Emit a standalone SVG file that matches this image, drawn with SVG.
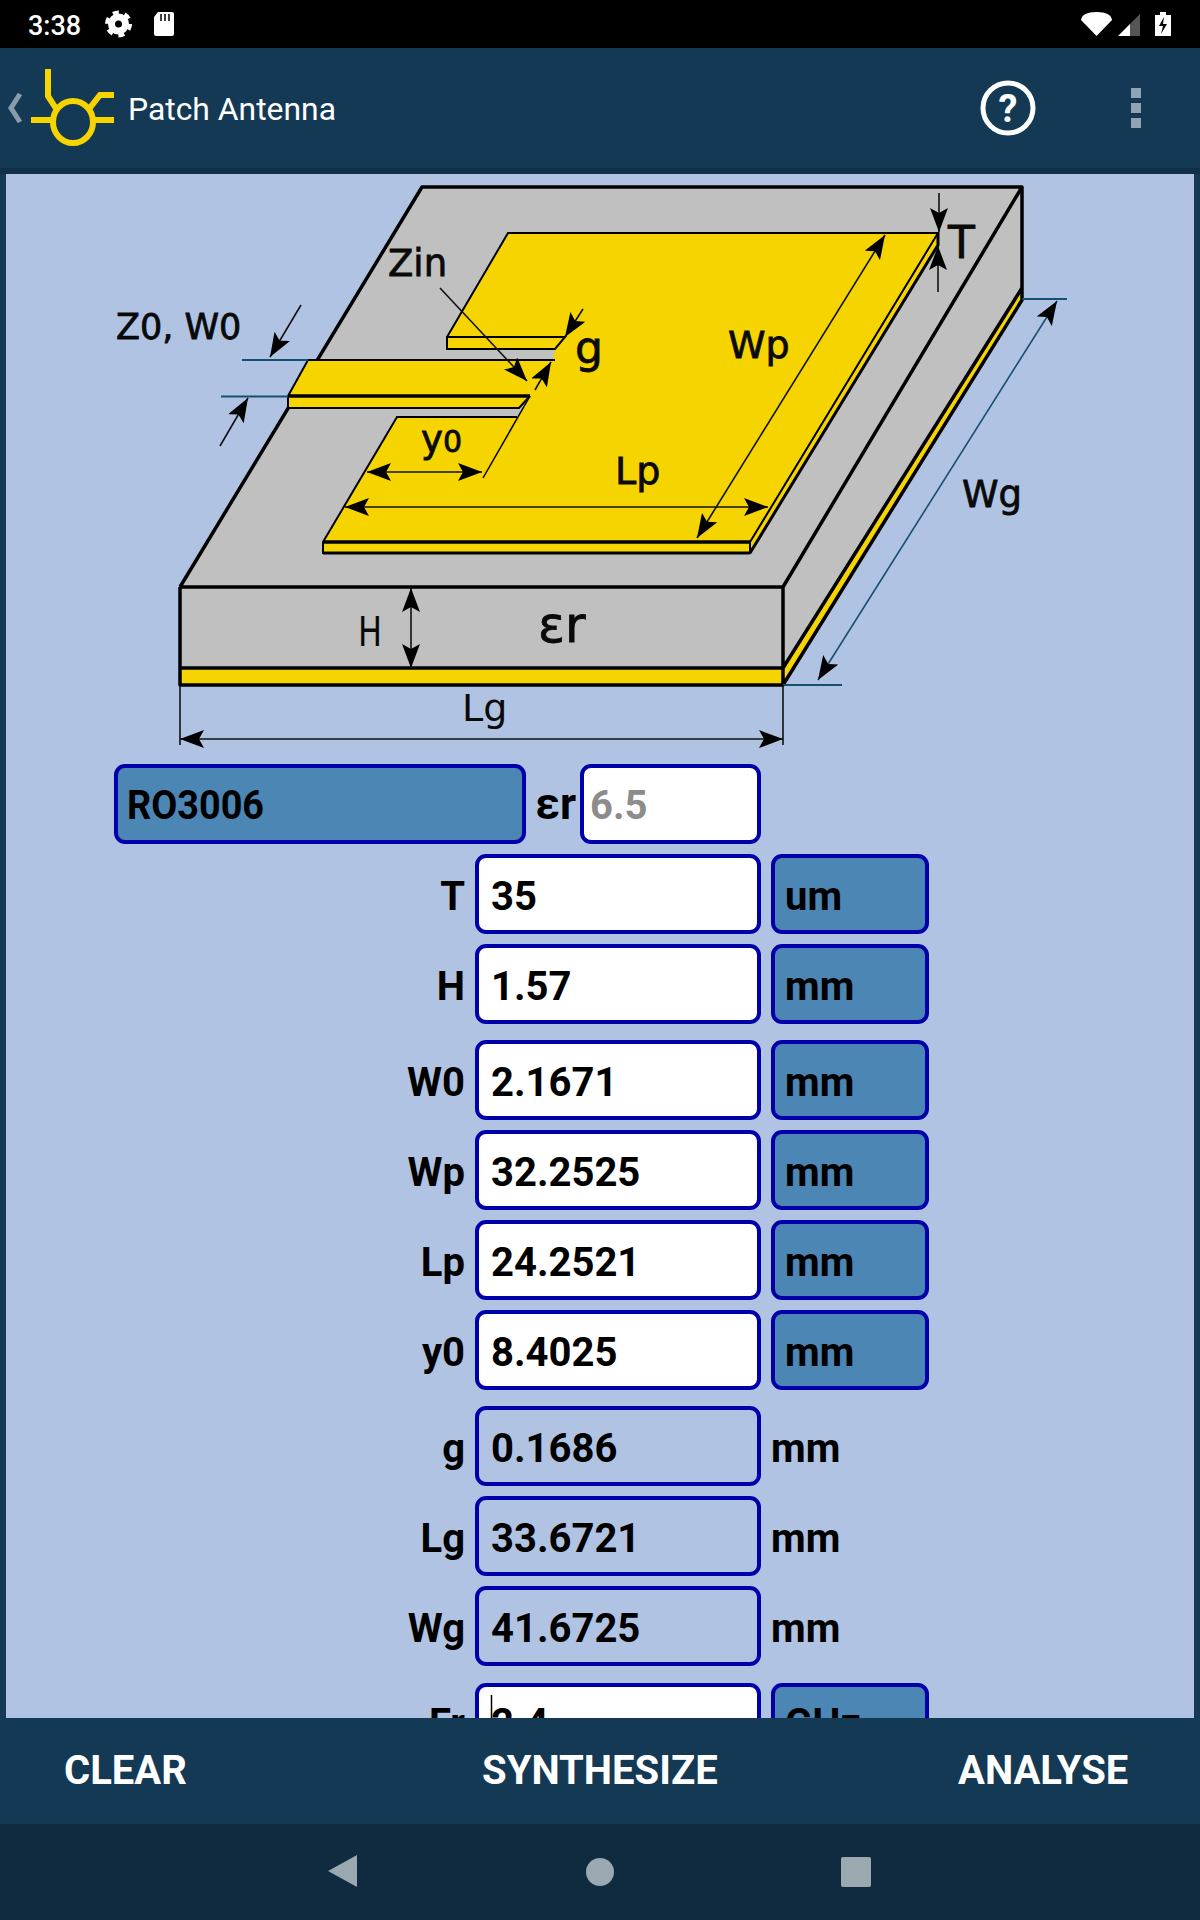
<svg xmlns="http://www.w3.org/2000/svg" width="1200" height="1920" viewBox="0 0 1200 1920">
<defs>
<marker id="arr" markerUnits="userSpaceOnUse" viewBox="0 0 24 18" refX="24" refY="9" markerWidth="24" markerHeight="18" orient="auto-start-reverse"><path d="M0,0 L24,9 L0,18 L5,9 Z" fill="#000"/></marker>
</defs>
<style>
.f{font-family:"Roboto","Liberation Sans",sans-serif;font-weight:700;font-size:40px;fill:#000}
.r{text-anchor:end}
.d{font-family:"DejaVu Sans",sans-serif;fill:#0a0a0a;stroke:#0a0a0a;stroke-width:.8}
.n{stroke-width:0}
.b{fill:#fff;stroke:#0000aa;stroke-width:4}
.s{fill:#4c86b5;stroke:#0000aa;stroke-width:4}
.o{fill:#b1c3e3;stroke:#0000aa;stroke-width:4}
.e{fill:none;stroke:#000;stroke-width:3.500;stroke-linejoin:round}
.t{fill:none;stroke:#000;stroke-width:2}
.h{fill:none;stroke:#000;stroke-width:3.500}
.dim{fill:none;stroke:#111;stroke-width:1.600}
.blue{fill:none;stroke:#14506f;stroke-width:2}
.w{font-family:"Roboto","Liberation Sans",sans-serif;font-weight:700;font-size:40px;fill:#fff}
</style>
<rect width="1200" height="1920" fill="#143955"/>
<g id="status-bar">
<rect width="1200" height="48" fill="#000"/>
<text x="28" y="35" font-family="Roboto,sans-serif" font-weight="500" font-size="27" fill="#fff">3:38</text>
<g id="gear"><circle cx="118.500" cy="24" r="7" fill="none" stroke="#fff" stroke-width="7"/><circle cx="118.500" cy="24" r="11.500" fill="none" stroke="#fff" stroke-width="4" stroke-dasharray="6 6.040"/></g>
<path d="M158,12 H172 a2,2 0 0 1 2,2 V34 a2,2 0 0 1 -2,2 H156 a2,2 0 0 1 -2,-2 V17 Z" fill="#fff"/>
<path d="M161,14 v7 M165,14 v7 M169,14 v7" stroke="#000" stroke-width="1.500"/>
<path d="M1081,20 Q1082,12 1096.500,12 Q1111,12 1112,20 L1096.500,36 Z" fill="#fff"/>
<path d="M1118,36 L1130,24 V36 Z" fill="#fff"/><path d="M1130,24 L1140,14 V36 H1130 Z" fill="#555"/>
<path d="M1155,15 H1160 V12 H1166 V15 H1171 V36 H1155 Z" fill="#fff"/><path d="M1164,17 L1159,26 H1163 L1161,34 L1167,24 H1163 Z" fill="#000"/>
</g>
<g id="app-bar">
<rect y="48" width="1200" height="120" fill="#143955"/>
<rect y="168" width="1200" height="6" fill="#10304a"/>
<path d="M20,94 L11,108 L20,122" fill="none" stroke="#8a9cab" stroke-width="5"/>
<g id="logo" fill="none" stroke="#f5d400" stroke-width="6"><path d="M48,69 V96 L57,110"/><path d="M114,95 H100 L89,109"/><ellipse cx="73" cy="122" rx="20" ry="21"/><path d="M31,120 H53 M93,120 H114"/></g>
<text x="128" y="120" font-family="Roboto,sans-serif" font-size="32" font-weight="400" textLength="208" lengthAdjust="spacingAndGlyphs" fill="#fff">Patch Antenna</text>
<g id="help"><circle cx="1008" cy="108" r="25" fill="none" stroke="#fff" stroke-width="5"/><text x="1008" y="122" text-anchor="middle" font-family="Roboto,sans-serif" font-weight="700" font-size="38" fill="#fff">?</text></g>
<path d="M1131,88 h10 v10 h-10 Z M1131,103 h10 v10 h-10 Z M1131,118 h10 v10 h-10 Z" fill="#90a4b4"/>
</g>
<rect id="content" x="6" y="174" width="1188" height="1544" fill="#b1c3e3"/>
<g id="substrate">
<path d="M422,187 H1022 V288 L783,668 H180 V587 Z" fill="#c0c0c0"/>
<rect x="180" y="668" width="603" height="17" fill="#f5d400"/>
<path d="M783,668 L1022,288 V300 L783,685 Z" fill="#f5d400"/>
<path class="e" d="M180,587 L422,187 H1022 V288 M180,587 H783 L1022,187 M180,587 V685 H783 V587 M180,668 H783 L1022,288 V300 L783,685"/>
</g>
<g id="patch">
<path d="M508,233 H938 V245 L750,553 H323 V542 L397,417 H517 L530,396 L553,360 L555,349 H447 V337 Z" fill="#f5d400"/>
<path d="M308,360 L288,396 V408 H519 L530,396 L553,360 Z" fill="#f5d400"/>
<path class="t" d="M447,337 L508,233 H938 L750,542 V553 H323 V542 L397,417 H517"/>
<path class="h" d="M323,542 H750"/>
<path class="t" style="stroke-width:3" d="M323,553 H750 M938,233 V245 L750,553"/>
<path class="t" d="M447,337 H565 L555,349 H447 Z"/>
<path class="t" d="M555,360 H308 L288,396 V408 H519 L530,396"/>
<path class="h" d="M288,396 H530"/>
<path class="t" style="stroke-width:1.500" d="M530,396 L483,478"/>
</g>
<g id="connectors">
<path class="blue" d="M242,360 H308 M221,396.500 H288 M1022,299 H1067 M783,685 H842"/>
<path class="dim" d="M301,305 L270,357" marker-end="url(#arr)"/>
<path class="dim" d="M220,446 L248,398" marker-end="url(#arr)"/>
<path class="dim" d="M440,288 L527,381" marker-end="url(#arr)"/>
<path class="dim" d="M583,309 L565,337" marker-end="url(#arr)"/>
<path class="dim" d="M535,390 L551,362" marker-end="url(#arr)"/>
<path class="dim" d="M367,472 H482" marker-start="url(#arr)" marker-end="url(#arr)"/>
<path class="dim" d="M345,507 H768" marker-start="url(#arr)" marker-end="url(#arr)"/>
<path class="dim" d="M885,235 L697,538" marker-start="url(#arr)" marker-end="url(#arr)"/>
<path class="dim" d="M939,193 V232" marker-end="url(#arr)"/>
<path class="dim" d="M938,292 V246" marker-end="url(#arr)"/>
<path class="blue" style="stroke-width:1.600" d="M1057,301 L818,680" marker-start="url(#arr)" marker-end="url(#arr)"/>
<path class="dim" d="M411,588 V668" marker-start="url(#arr)" marker-end="url(#arr)"/>
<path class="dim" d="M180,739 H783" marker-start="url(#arr)" marker-end="url(#arr)"/>
<path class="dim" d="M180,685 V745 M783,685 V745"/>
</g>
<g id="diagram-labels">
<text class="d" x="388" y="276" font-size="37">Zin</text>
<text class="d" x="116" y="339" font-size="35">Z0, W0</text>
<text class="d" x="575" y="363" font-size="44">g</text>
<text class="d" x="421" y="452" font-size="37">y<tspan font-size="30">0</tspan></text>
<text class="d" x="728" y="358" font-size="38">Wp</text>
<text class="d" x="615" y="484" font-size="38">Lp</text>
<text class="d" x="948" y="258" font-size="44">T</text>
<text class="d" x="962" y="507" font-size="37">Wg</text>
<text class="d n" x="358" y="646" font-size="40" textLength="24" lengthAdjust="spacingAndGlyphs">H</text>
<text class="d" x="538" y="642" font-size="50">εr</text>
<text class="d n" x="462" y="721" font-size="38">Lg</text>
</g>
<g id="row-material"><rect class="s" x="116" y="766" width="408" height="76" rx="9"/><text class="f" x="127" y="819" textLength="137" lengthAdjust="spacingAndGlyphs">RO3006</text></g>
<g id="row-er"><text class="f r" x="576" y="819" style="font-size:44px">εr</text><rect class="b" x="582" y="766" width="177" height="76" rx="9"/><text class="f" x="590" y="819" style="fill:#8c8c8c">6.5</text></g>
<g id="row-T"><text class="f r" x="465" y="910">T</text><rect class="b" x="477" y="856" width="282" height="76" rx="9"/><text class="f" x="491" y="910">35</text><rect class="s" x="773" y="856" width="154" height="76" rx="9"/><text class="f" x="785" y="910">um</text></g>
<g id="row-H"><text class="f r" x="465" y="1000">H</text><rect class="b" x="477" y="946" width="282" height="76" rx="9"/><text class="f" x="491" y="1000">1.57</text><rect class="s" x="773" y="946" width="154" height="76" rx="9"/><text class="f" x="785" y="1000">mm</text></g>
<g id="row-W0"><text class="f r" x="465" y="1096">W0</text><rect class="b" x="477" y="1042" width="282" height="76" rx="9"/><text class="f" x="491" y="1096">2.1671</text><rect class="s" x="773" y="1042" width="154" height="76" rx="9"/><text class="f" x="785" y="1096">mm</text></g>
<g id="row-Wp"><text class="f r" x="465" y="1186">Wp</text><rect class="b" x="477" y="1132" width="282" height="76" rx="9"/><text class="f" x="491" y="1186">32.2525</text><rect class="s" x="773" y="1132" width="154" height="76" rx="9"/><text class="f" x="785" y="1186">mm</text></g>
<g id="row-Lp"><text class="f r" x="465" y="1276">Lp</text><rect class="b" x="477" y="1222" width="282" height="76" rx="9"/><text class="f" x="491" y="1276">24.2521</text><rect class="s" x="773" y="1222" width="154" height="76" rx="9"/><text class="f" x="785" y="1276">mm</text></g>
<g id="row-y0"><text class="f r" x="465" y="1366">y0</text><rect class="b" x="477" y="1312" width="282" height="76" rx="9"/><text class="f" x="491" y="1366">8.4025</text><rect class="s" x="773" y="1312" width="154" height="76" rx="9"/><text class="f" x="785" y="1366">mm</text></g>
<g id="row-g"><text class="f r" x="465" y="1462">g</text><rect class="o" x="477" y="1408" width="282" height="76" rx="9"/><text class="f" x="491" y="1462">0.1686</text><text class="f" x="771" y="1462">mm</text></g>
<g id="row-Lg"><text class="f r" x="465" y="1552">Lg</text><rect class="o" x="477" y="1498" width="282" height="76" rx="9"/><text class="f" x="491" y="1552">33.6721</text><text class="f" x="771" y="1552">mm</text></g>
<g id="row-Wg"><text class="f r" x="465" y="1642">Wg</text><rect class="o" x="477" y="1588" width="282" height="76" rx="9"/><text class="f" x="491" y="1642">41.6725</text><text class="f" x="771" y="1642">mm</text></g>
<g id="row-Fr"><text class="f r" x="465" y="1737">Fr</text><rect class="b" x="477" y="1685" width="282" height="76" rx="9"/><text class="f" x="491" y="1737">2.4</text><path d="M491.500,1695 V1718" stroke="#000" stroke-width="1.500"/><rect class="s" x="773" y="1685" width="154" height="76" rx="9"/><text class="f" x="785" y="1737">GHz</text></g>
<g id="button-bar">
<rect y="1718" width="1200" height="106" fill="#143955"/>
<text class="w" x="64" y="1784">CLEAR</text>
<text class="w" x="482" y="1784">SYNTHESIZE</text>
<text class="w" x="958" y="1784">ANALYSE</text>
</g>
<g id="nav-bar">
<rect y="1824" width="1200" height="96" fill="#102a40"/>
<path d="M357,1855 V1887 L328,1871 Z" fill="#9aa8b0"/>
<circle cx="600" cy="1872" r="14" fill="#9aa8b0"/>
<rect x="841" y="1857" width="30" height="30" rx="2" fill="#9aa8b0"/>
</g>
</svg>
